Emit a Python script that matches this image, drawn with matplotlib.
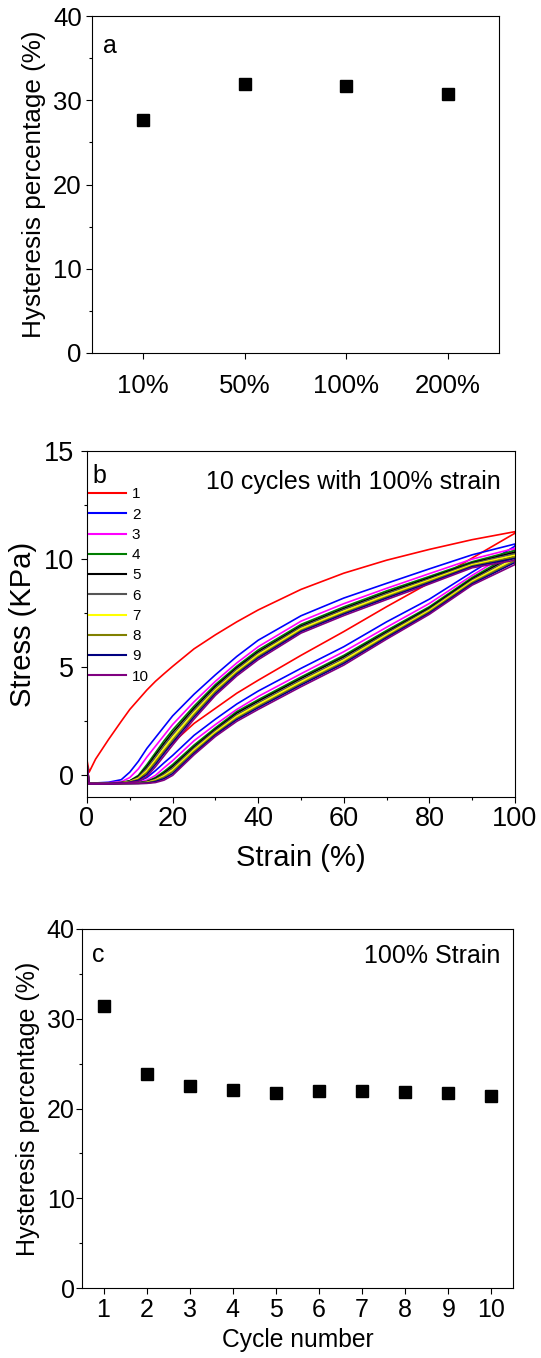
import matplotlib
matplotlib.use('Agg')
from matplotlib import pyplot as plt
from matplotlib.ticker import MultipleLocator

plt.rcParams['font.family'] = ['Liberation Sans', 'DejaVu Sans']

# (a) hysteresis vs applied strain
strain_levels = ['10%', '50%', '100%', '200%']
hysteresis_by_strain = [27.7, 31.9, 31.7, 30.7]

# (b) stress-strain loops on a common strain grid
strain_grid = [0, 0.5, 2, 5, 8, 10, 12, 14, 16, 18, 20, 25, 30, 35, 40, 50, 60, 70, 80, 90, 100]

load_c1 = [0.7, 0.15, 0.75, 1.65, 2.5, 3.05, 3.5, 3.95, 4.35, 4.7, 5.04, 5.85, 6.5, 7.1, 7.65, 8.6, 9.35, 9.95, 10.45, 10.9, 11.27]
load_c2 = [0.4, -0.35, -0.35, -0.32, -0.2, 0.15, 0.65, 1.25, 1.75, 2.25, 2.75, 3.75, 4.65, 5.5, 6.25, 7.38, 8.2, 8.88, 9.55, 10.2, 10.7]
load_c3 = [0.4, -0.36, -0.36, -0.34, -0.3, -0.1, 0.3, 0.85, 1.35, 1.85, 2.35, 3.4, 4.35, 5.2, 5.95, 7.13, 7.94, 8.65, 9.33, 10.0, 10.5]
load_c4 = [0.45, -0.36, -0.37, -0.36, -0.33, -0.25, 0.0, 0.5, 1.05, 1.6, 2.1, 3.2, 4.2, 5.05, 5.8, 6.98, 7.79, 8.53, 9.2, 9.88, 10.4]
load_c5 = [0.45, -0.36, -0.37, -0.36, -0.34, -0.26, -0.05, 0.4, 0.95, 1.48, 1.98, 3.1, 4.12, 4.98, 5.72, 6.91, 7.72, 8.46, 9.14, 9.83, 10.32]
load_c6 = [0.5, -0.37, -0.37, -0.37, -0.35, -0.28, -0.09, 0.32, 0.83, 1.37, 1.87, 3.0, 4.03, 4.9, 5.65, 6.85, 7.66, 8.4, 9.08, 9.79, 10.25]
load_c7 = [0.5, -0.37, -0.38, -0.37, -0.35, -0.29, -0.14, 0.22, 0.72, 1.25, 1.75, 2.9, 3.95, 4.82, 5.58, 6.78, 7.59, 8.33, 9.03, 9.74, 10.18]
load_c8 = [0.5, -0.37, -0.38, -0.37, -0.36, -0.3, -0.19, 0.13, 0.62, 1.13, 1.63, 2.8, 3.87, 4.75, 5.5, 6.71, 7.52, 8.26, 8.97, 9.69, 10.1]
load_c9 = [0.55, -0.38, -0.38, -0.38, -0.36, -0.32, -0.23, 0.04, 0.51, 1.02, 1.52, 2.7, 3.78, 4.68, 5.43, 6.65, 7.46, 8.2, 8.91, 9.65, 10.03]
load_c10 = [0.55, -0.38, -0.38, -0.38, -0.37, -0.33, -0.28, -0.05, 0.4, 0.9, 1.4, 2.6, 3.7, 4.6, 5.35, 6.58, 7.39, 8.13, 8.85, 9.6, 9.95]

unload_c1 = [-0.36, -0.36, -0.36, -0.35, -0.33, -0.3, -0.15, 0.15, 0.65, 1.12, 1.5, 2.4, 3.1, 3.8, 4.4, 5.55, 6.65, 7.8, 8.9, 10.05, 11.2]
unload_c2 = [-0.37, -0.37, -0.37, -0.36, -0.35, -0.33, -0.28, -0.1, 0.22, 0.58, 0.92, 1.85, 2.6, 3.3, 3.9, 4.95, 5.95, 7.1, 8.15, 9.4, 10.6]
unload_c3 = [-0.37, -0.37, -0.37, -0.37, -0.36, -0.35, -0.32, -0.22, 0.0, 0.35, 0.68, 1.6, 2.35, 3.05, 3.65, 4.7, 5.72, 6.85, 7.95, 9.25, 10.45]
unload_c4 = [-0.37, -0.37, -0.37, -0.37, -0.37, -0.36, -0.34, -0.28, -0.1, 0.18, 0.5, 1.4, 2.2, 2.95, 3.5, 4.55, 5.55, 6.7, 7.8, 9.15, 10.3]
unload_c5 = [-0.37, -0.37, -0.37, -0.37, -0.37, -0.36, -0.35, -0.3, -0.14, 0.11, 0.42, 1.32, 2.13, 2.88, 3.43, 4.48, 5.48, 6.63, 7.74, 9.09, 10.2]
unload_c6 = [-0.37, -0.37, -0.37, -0.37, -0.37, -0.37, -0.36, -0.31, -0.18, 0.05, 0.33, 1.25, 2.07, 2.8, 3.35, 4.4, 5.4, 6.57, 7.68, 9.03, 10.12]
unload_c7 = [-0.38, -0.38, -0.38, -0.38, -0.38, -0.37, -0.36, -0.33, -0.22, -0.02, 0.25, 1.18, 2.0, 2.73, 3.28, 4.33, 5.33, 6.5, 7.63, 8.98, 10.02]
unload_c8 = [-0.38, -0.38, -0.38, -0.38, -0.38, -0.37, -0.37, -0.34, -0.25, -0.08, 0.17, 1.1, 1.93, 2.65, 3.2, 4.25, 5.25, 6.43, 7.57, 8.92, 9.93]
unload_c9 = [-0.38, -0.38, -0.38, -0.38, -0.38, -0.38, -0.37, -0.36, -0.29, -0.15, 0.08, 1.02, 1.87, 2.58, 3.13, 4.18, 5.18, 6.37, 7.51, 8.86, 9.85]
unload_c10 = [-0.38, -0.38, -0.38, -0.38, -0.38, -0.38, -0.38, -0.37, -0.33, -0.22, 0.0, 0.95, 1.8, 2.5, 3.05, 4.1, 5.1, 6.3, 7.45, 8.8, 9.75]

cycle_labels = ['1', '2', '3', '4', '5', '6', '7', '8', '9', '10']
cycle_colors = ['#FF0000', '#0000FF', '#FF00FF', '#008000', '#000000',
                '#555555', '#FFFF00', '#808000', '#000080', '#800080']

# (c) hysteresis vs cycle number
cycle_numbers = [1, 2, 3, 4, 5, 6, 7, 8, 9, 10]
hysteresis_by_cycle = [31.4, 23.8, 22.5, 22.1, 21.7, 22.0, 21.9, 21.8, 21.7, 21.4]


def style_axes(ax, label_size):
    ax.tick_params(which='both', direction='out', top=False, right=False, width=0.8)
    ax.tick_params(which='major', length=4.3, labelsize=label_size)
    ax.tick_params(which='minor', length=2.4)
    for spine in ax.spines.values():
        spine.set_linewidth(0.8)


fig = plt.figure(figsize=(5.41, 13.58), dpi=100)

# panel a
ax_a = fig.add_axes([92 / 541, 1 - 353 / 1358, 407 / 541, 337 / 1358])
positions = range(1, len(strain_levels) + 1)
ax_a.plot(positions, hysteresis_by_strain, 's', color='black', markersize=8.9, linestyle='none')
ax_a.set_xlim(0.5, 4.5)
ax_a.set_ylim(0, 40)
ax_a.set_xticks(list(positions))
ax_a.set_xticklabels(strain_levels)
ax_a.yaxis.set_major_locator(MultipleLocator(10))
ax_a.yaxis.set_minor_locator(MultipleLocator(5))
style_axes(ax_a, 18.5)
ax_a.tick_params(axis='x', pad=11)
ax_a.tick_params(axis='y', pad=3)
ax_a.set_ylabel('Hysteresis percentage (%)', fontsize=18.8)
ax_a.yaxis.set_label_coords(-0.113, 0.5)
ax_a.text(0.027, 0.89, 'a', transform=ax_a.transAxes, fontsize=18, va='baseline')

# panel b
ax_b = fig.add_axes([87 / 541, 1 - 797 / 1358, 428 / 541, 346 / 1358])
loads = [load_c1, load_c2, load_c3, load_c4, load_c5, load_c6, load_c7, load_c8, load_c9, load_c10]
unloads = [unload_c1, unload_c2, unload_c3, unload_c4, unload_c5, unload_c6, unload_c7, unload_c8, unload_c9, unload_c10]
for load, unload, color, label in zip(loads, unloads, cycle_colors, cycle_labels):
    xs = strain_grid + strain_grid[::-1]
    ys = load + unload[::-1]
    ax_b.plot(xs, ys, color=color, linewidth=1.2, label=label)
ax_b.set_xlim(0, 100)
ax_b.set_ylim(-1, 15)
ax_b.xaxis.set_major_locator(MultipleLocator(20))
ax_b.xaxis.set_minor_locator(MultipleLocator(10))
ax_b.yaxis.set_major_locator(MultipleLocator(5))
ax_b.yaxis.set_minor_locator(MultipleLocator(2.5))
style_axes(ax_b, 19.5)
ax_b.tick_params(axis='x', pad=2)
ax_b.tick_params(axis='y', pad=5)
ax_b.set_xlabel('Strain (%)', fontsize=21)
ax_b.xaxis.set_label_coords(0.5, -0.135)
ax_b.set_ylabel('Stress (KPa)', fontsize=21)
ax_b.yaxis.set_label_coords(-0.116, 0.5)
ax_b.text(0.013, 0.907, 'b', transform=ax_b.transAxes, fontsize=18, va='baseline')
ax_b.text(0.9666, 0.889, '10 cycles with 100% strain', transform=ax_b.transAxes,
          fontsize=18, ha='right', va='baseline')
legend = ax_b.legend(loc='upper left', bbox_to_anchor=(0.005, 0.895), frameon=False, fontsize=11,
                     handlelength=2.4, handletextpad=0.4, labelspacing=0.41,
                     borderpad=0, borderaxespad=0)
for handle in legend.get_lines():
    handle.set_linewidth(1.5)

# panel c
ax_c = fig.add_axes([82 / 541, 1 - 1288 / 1358, 431 / 541, 359 / 1358])
ax_c.plot(cycle_numbers, hysteresis_by_cycle, 's', color='black', markersize=8.4, linestyle='none')
ax_c.set_xlim(0.5, 10.5)
ax_c.set_ylim(0, 40)
ax_c.set_xticks(cycle_numbers)
ax_c.yaxis.set_major_locator(MultipleLocator(10))
ax_c.yaxis.set_minor_locator(MultipleLocator(5))
style_axes(ax_c, 18)
ax_c.tick_params(axis='x', pad=3)
ax_c.tick_params(axis='y', pad=1)
ax_c.set_xlabel('Cycle number', fontsize=17.7)
ax_c.xaxis.set_label_coords(0.5, -0.112)
ax_c.set_ylabel('Hysteresis percentage (%)', fontsize=18)
ax_c.yaxis.set_label_coords(-0.097, 0.5)
ax_c.text(0.0225, 0.909, 'c', transform=ax_c.transAxes, fontsize=18, va='baseline')
ax_c.text(0.97, 0.904, '100% Strain', transform=ax_c.transAxes, fontsize=18,
          ha='right', va='baseline')

fig.savefig('out.png', dpi=100)
